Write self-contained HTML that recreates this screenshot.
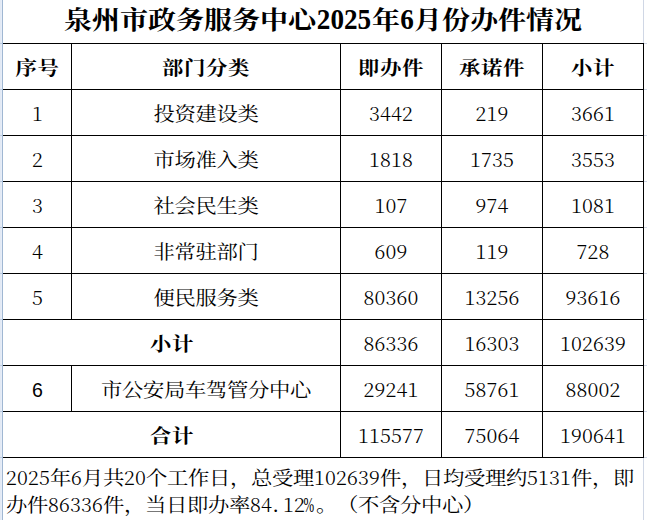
<!DOCTYPE html>
<html><head><meta charset="utf-8"><style>
html,body{margin:0;padding:0;background:#fff;text-spacing-trim:space-all;}
body{width:647px;height:520px;position:relative;overflow:hidden;}
.l{position:absolute;}
.c{position:absolute;height:45px;line-height:45px;text-align:center;white-space:nowrap;
 font-family:"Liberation Serif","Noto Serif CJK SC",serif;font-size:21.33px;color:#000;}
.k{display:inline-block;transform:scaleY(0.91);font-weight:400;}
.b .k,.title .k{font-weight:700;}
.b{font-weight:700;}
.d{letter-spacing:.33px;}
.c .d,.fn .d{font-family:"Noto Serif CJK SC",serif;font-weight:300;font-size:20px;letter-spacing:.18px;line-height:0;}
.k{letter-spacing:-.33px;}
.b .k{letter-spacing:.67px;}
.title .k,.title .d{letter-spacing:0;}
.c .d{position:relative;top:-1px;}
.title .d{top:0;font-family:"Liberation Serif",serif;font-weight:700;font-size:28px;letter-spacing:0;line-height:inherit;display:inline-block;transform:scale(.97,1.07);transform-origin:50% 72%;}
.fn .k{position:relative;top:1px;}
.sans .d{font-family:"Liberation Sans",sans-serif;font-size:19.6px;font-weight:400;letter-spacing:0;}
.sans{font-family:"Liberation Sans",sans-serif;}
.title{font-size:28px;font-weight:700;height:43px;line-height:43px;}
.fn{position:absolute;white-space:nowrap;font-family:"Liberation Serif","Noto Serif CJK SC",serif;font-size:21.33px;line-height:26px;color:#000;}
.h{display:inline-block;width:11px;text-align:left;text-indent:1px;}
.pc{display:inline-block;transform:scaleX(.6);transform-origin:0 0;margin-left:-3px;}
.td{position:relative;top:-1.5px;}
</style></head><body>
<div class="l" style="left:0;top:0;width:1px;height:520px;background:#e2e9f4"></div>
<div class="l" style="left:1px;top:0;width:1px;height:520px;background:#e6edf8"></div>
<div class="l" style="left:2px;top:0;width:1px;height:520px;background:#a0b7d2"></div>
<div class="l" style="left:0px;top:43px;width:2px;height:1px;background:#bccde3"></div>
<div class="l" style="left:0px;top:89px;width:2px;height:1px;background:#bccde3"></div>
<div class="l" style="left:0px;top:135px;width:2px;height:1px;background:#bccde3"></div>
<div class="l" style="left:0px;top:181px;width:2px;height:1px;background:#bccde3"></div>
<div class="l" style="left:0px;top:227px;width:2px;height:1px;background:#bccde3"></div>
<div class="l" style="left:0px;top:273px;width:2px;height:1px;background:#bccde3"></div>
<div class="l" style="left:0px;top:319px;width:2px;height:1px;background:#bccde3"></div>
<div class="l" style="left:0px;top:365px;width:2px;height:1px;background:#bccde3"></div>
<div class="l" style="left:0px;top:411px;width:2px;height:1px;background:#bccde3"></div>
<div class="l" style="left:0px;top:457px;width:2px;height:1px;background:#bccde3"></div>
<div class="l" style="left:643px;top:0px;width:1px;height:43px;background:#d0d7e5"></div>
<div class="l" style="left:643px;top:458px;width:1px;height:62px;background:#d0d7e5"></div>
<div class="l" style="left:644px;top:43px;width:3px;height:1px;background:#d0d7e5"></div>
<div class="l" style="left:644px;top:89px;width:3px;height:1px;background:#d0d7e5"></div>
<div class="l" style="left:644px;top:135px;width:3px;height:1px;background:#d0d7e5"></div>
<div class="l" style="left:644px;top:181px;width:3px;height:1px;background:#d0d7e5"></div>
<div class="l" style="left:644px;top:227px;width:3px;height:1px;background:#d0d7e5"></div>
<div class="l" style="left:644px;top:273px;width:3px;height:1px;background:#d0d7e5"></div>
<div class="l" style="left:644px;top:319px;width:3px;height:1px;background:#d0d7e5"></div>
<div class="l" style="left:644px;top:365px;width:3px;height:1px;background:#d0d7e5"></div>
<div class="l" style="left:644px;top:411px;width:3px;height:1px;background:#d0d7e5"></div>
<div class="l" style="left:644px;top:457px;width:3px;height:1px;background:#d0d7e5"></div>
<div class="l" style="left:3px;top:43px;width:641px;height:1px;background:#000"></div>
<div class="l" style="left:3px;top:89px;width:641px;height:1px;background:#000"></div>
<div class="l" style="left:3px;top:135px;width:641px;height:1px;background:#000"></div>
<div class="l" style="left:3px;top:181px;width:641px;height:1px;background:#000"></div>
<div class="l" style="left:3px;top:227px;width:641px;height:1px;background:#000"></div>
<div class="l" style="left:3px;top:273px;width:641px;height:1px;background:#000"></div>
<div class="l" style="left:3px;top:319px;width:641px;height:1px;background:#000"></div>
<div class="l" style="left:3px;top:365px;width:641px;height:1px;background:#000"></div>
<div class="l" style="left:3px;top:411px;width:641px;height:1px;background:#000"></div>
<div class="l" style="left:3px;top:457px;width:641px;height:1px;background:#000"></div>
<div class="l" style="left:340px;top:43px;width:1px;height:415px;background:#000"></div>
<div class="l" style="left:441px;top:43px;width:1px;height:415px;background:#000"></div>
<div class="l" style="left:542px;top:43px;width:1px;height:415px;background:#000"></div>
<div class="l" style="left:643px;top:43px;width:1px;height:415px;background:#000"></div>
<div class="l" style="left:71px;top:43px;width:1px;height:277px;background:#000"></div>
<div class="l" style="left:71px;top:365px;width:1px;height:47px;background:#000"></div>
<div class="c title" style="left:3px;top:-1px;width:640px"><span class="k">泉州市政务服务中心</span><span class=td><span class="d">2025</span></span><span class="k">年</span><span class=td><span class="d">6</span></span><span class="k">月份办件情况</span></div>
<div class="c b" style="left:4px;top:47px;width:67px"><span class="k">序号</span></div>
<div class="c b" style="left:72px;top:47px;width:268px"><span class="k">部门分类</span></div>
<div class="c b" style="left:341px;top:47px;width:100px"><span class="k">即办件</span></div>
<div class="c b" style="left:442px;top:47px;width:100px"><span class="k">承诺件</span></div>
<div class="c b" style="left:543px;top:47px;width:100px"><span class="k">小计</span></div>
<div class="c " style="left:4px;top:93px;width:67px"><span class="d">1</span></div>
<div class="c " style="left:72px;top:93px;width:268px"><span class="k">投资建设类</span></div>
<div class="c " style="left:341px;top:93px;width:100px"><span class="d">3442</span></div>
<div class="c " style="left:442px;top:93px;width:100px"><span class="d">219</span></div>
<div class="c " style="left:543px;top:93px;width:100px"><span class="d">3661</span></div>
<div class="c " style="left:4px;top:139px;width:67px"><span class="d">2</span></div>
<div class="c " style="left:72px;top:139px;width:268px"><span class="k">市场准入类</span></div>
<div class="c " style="left:341px;top:139px;width:100px"><span class="d">1818</span></div>
<div class="c " style="left:442px;top:139px;width:100px"><span class="d">1735</span></div>
<div class="c " style="left:543px;top:139px;width:100px"><span class="d">3553</span></div>
<div class="c " style="left:4px;top:185px;width:67px"><span class="d">3</span></div>
<div class="c " style="left:72px;top:185px;width:268px"><span class="k">社会民生类</span></div>
<div class="c " style="left:341px;top:185px;width:100px"><span class="d">107</span></div>
<div class="c " style="left:442px;top:185px;width:100px"><span class="d">974</span></div>
<div class="c " style="left:543px;top:185px;width:100px"><span class="d">1081</span></div>
<div class="c " style="left:4px;top:231px;width:67px"><span class="d">4</span></div>
<div class="c " style="left:72px;top:231px;width:268px"><span class="k">非常驻部门</span></div>
<div class="c " style="left:341px;top:231px;width:100px"><span class="d">609</span></div>
<div class="c " style="left:442px;top:231px;width:100px"><span class="d">119</span></div>
<div class="c " style="left:543px;top:231px;width:100px"><span class="d">728</span></div>
<div class="c " style="left:4px;top:277px;width:67px"><span class="d">5</span></div>
<div class="c " style="left:72px;top:277px;width:268px"><span class="k">便民服务类</span></div>
<div class="c " style="left:341px;top:277px;width:100px"><span class="d">80360</span></div>
<div class="c " style="left:442px;top:277px;width:100px"><span class="d">13256</span></div>
<div class="c " style="left:543px;top:277px;width:100px"><span class="d">93616</span></div>
<div class="c b" style="left:4px;top:323px;width:336px"><span class="k">小计</span></div>
<div class="c " style="left:341px;top:323px;width:100px"><span class="d">86336</span></div>
<div class="c " style="left:442px;top:323px;width:100px"><span class="d">16303</span></div>
<div class="c " style="left:543px;top:323px;width:100px"><span class="d">102639</span></div>
<div class="c sans" style="left:4px;top:369px;width:67px"><span class="d">6</span></div>
<div class="c " style="left:72px;top:369px;width:268px"><span class="k">市公安局车驾管分中心</span></div>
<div class="c " style="left:341px;top:369px;width:100px"><span class="d">29241</span></div>
<div class="c " style="left:442px;top:369px;width:100px"><span class="d">58761</span></div>
<div class="c " style="left:543px;top:369px;width:100px"><span class="d">88002</span></div>
<div class="c b" style="left:4px;top:415px;width:336px"><span class="k">合计</span></div>
<div class="c " style="left:341px;top:415px;width:100px"><span class="d">115577</span></div>
<div class="c " style="left:442px;top:415px;width:100px"><span class="d">75064</span></div>
<div class="c " style="left:543px;top:415px;width:100px"><span class="d">190641</span></div>
<div class="fn" style="left:6px;top:465px"><span class="d">2025</span><span class="k">年</span><span class="d">6</span><span class="k">月共</span><span class="d">20</span><span class="k">个工作日，总受理</span><span class="d">102639</span><span class="k">件，日均受理约</span><span class="d">5131</span><span class="k">件，即</span></div>
<div class="fn" style="left:6px;top:491.7px"><span class="k">办件</span><span class="d">86336</span><span class="k">件，当日即办率</span><span class="d">84</span><span class="h">.</span><span class="d">12</span><span class="h"><span class="pc">%</span></span><span class="k">。（不含分中心）</span></div>
</body></html>
